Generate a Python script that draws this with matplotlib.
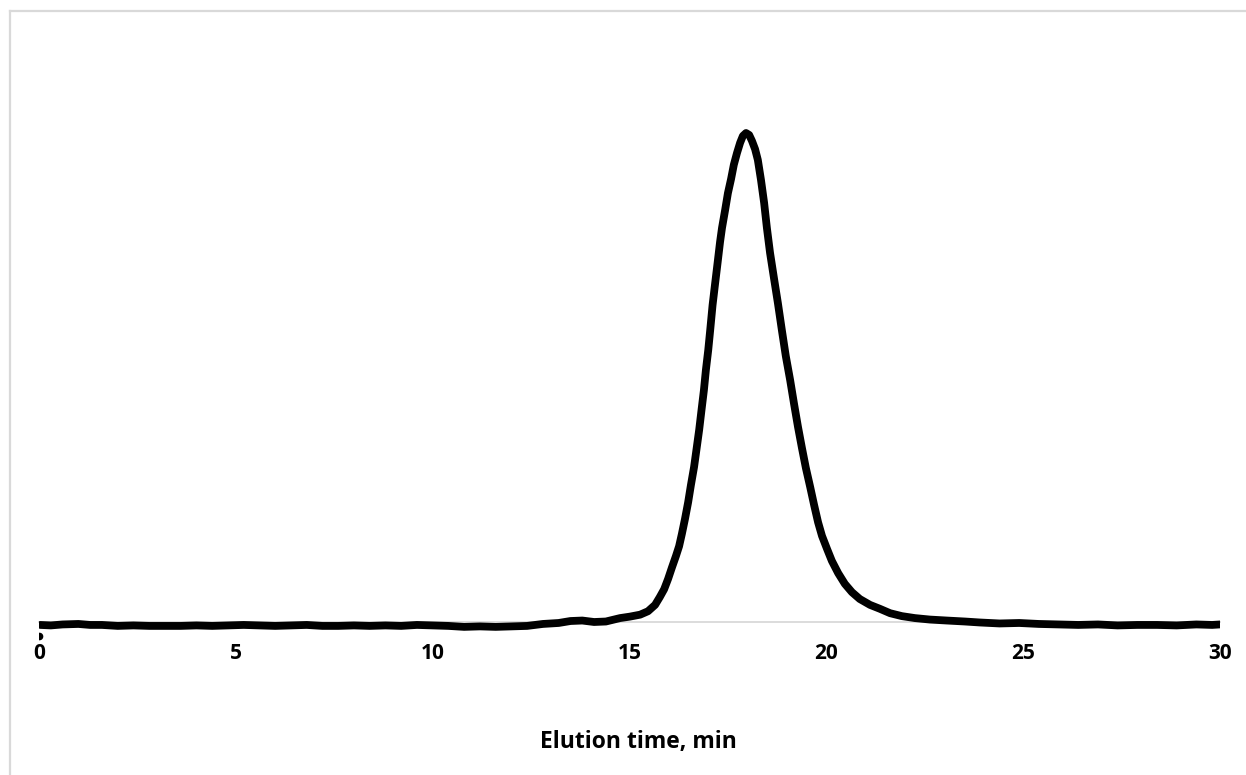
import matplotlib
matplotlib.use("Agg")
import matplotlib.pyplot as plt
from matplotlib.lines import Line2D

# Chromatogram: elution time (min) vs detector signal (relative, peak = 100)
time = [0.00, 0.03, 0.30, 0.60, 1.00, 1.30, 1.60, 2.00, 2.40, 2.80, 3.20,
        3.60, 4.00, 4.40, 4.80, 5.20, 5.60, 6.00, 6.40, 6.80, 7.20, 7.60,
        8.00, 8.40, 8.80, 9.20, 9.60, 10.00, 10.40, 10.80, 11.20, 11.60,
        12.00, 12.40, 12.80, 13.20, 13.50, 13.80, 14.10, 14.40,
        14.76, 15.01, 15.27, 15.47, 15.65, 15.77, 15.88, 15.98, 16.08,
        16.18, 16.26, 16.33, 16.41, 16.49, 16.56, 16.64, 16.70, 16.77,
        16.83, 16.89, 16.94, 17.00, 17.05, 17.11, 17.17, 17.24, 17.30,
        17.35, 17.43, 17.50, 17.58, 17.65, 17.73, 17.81, 17.88, 17.96,
        18.04, 18.11, 18.19, 18.26, 18.34, 18.42, 18.49, 18.57, 18.67,
        18.77, 18.87, 18.97, 19.08, 19.18, 19.28, 19.38, 19.48, 19.59,
        19.69, 19.79, 19.89, 20.02, 20.14, 20.30, 20.47, 20.65, 20.85,
        21.11, 21.36, 21.62, 21.92, 22.25, 22.63, 23.06, 23.52, 23.90,
        24.40, 24.90, 25.40, 25.90, 26.40, 26.90, 27.40, 27.90, 28.40,
        28.90, 29.40, 29.80, 30.00]
signal = [-2.9, -0.6, -0.7, -0.5, -0.4, -0.6, -0.6, -0.8, -0.7, -0.8, -0.8,
          -0.8, -0.7, -0.8, -0.7, -0.6, -0.7, -0.8, -0.7, -0.6, -0.8, -0.8,
          -0.7, -0.8, -0.7, -0.8, -0.6, -0.7, -0.8, -1.0, -0.9, -1.0,
          -0.9, -0.8, -0.4, -0.2, 0.2, 0.3, 0.0, 0.1,
          0.8, 1.1, 1.5, 2.2, 3.5, 5.1, 6.7, 8.8, 11.2,
          13.5, 15.5, 18.0, 21.1, 24.5, 28.0, 31.7, 35.2, 39.3,
          43.4, 47.4, 51.5, 55.6, 59.7, 64.8, 68.9, 73.6, 77.7,
          80.6, 84.3, 87.7, 90.6, 93.5, 95.9, 98.0, 99.4, 100.0,
          99.6, 98.4, 96.7, 94.5, 90.4, 85.7, 80.6, 75.5, 70.3,
          65.2, 59.7, 54.4, 49.5, 44.6, 39.9, 35.6, 31.5, 27.6,
          23.9, 20.4, 17.6, 14.9, 12.5, 10.0, 7.8, 6.1, 4.7,
          3.5, 2.7, 1.8, 1.2, 0.8, 0.5, 0.3, 0.1, -0.1,
          -0.3, -0.2, -0.4, -0.5, -0.6, -0.5, -0.7, -0.6, -0.6,
          -0.7, -0.5, -0.6, -0.5]

x_ticks = [0, 5, 10, 15, 20, 25, 30]
x_label = "Elution time, min"

W, H = 1246, 775
fig = plt.figure(figsize=(W / 100, H / 100), dpi=100)

# plot area in pixel terms: x 0..30 spans 39..1220, y=0 at 622 px
y_lo, y_hi = -4.0, 110.0
px_per_unit = 4.89
bottom_px = 622 + (0 - y_lo) * px_per_unit
top_px = 622 - y_hi * px_per_unit
ax = fig.add_axes([39 / W, (H - bottom_px) / H, (1220 - 39) / W,
                   (bottom_px - top_px) / H])
ax.set_xlim(0, 30)
ax.set_ylim(y_lo, y_hi)

ax.plot(time[1:], signal[1:], color="black", lw=5.6,
        solid_capstyle="round", solid_joinstyle="round", zorder=3)
ax.plot(time[:1], signal[:1], "o", color="black", ms=4.5, zorder=3)

for side in ("top", "right", "left"):
    ax.spines[side].set_visible(False)
ax.spines["bottom"].set_position(("data", 0))
ax.spines["bottom"].set_color("#d9d9d9")
ax.spines["bottom"].set_linewidth(1.3)
ax.spines["bottom"].set_zorder(1)
ax.set_yticks([])
ax.set_xticks(x_ticks)
ax.set_xticklabels([str(v) for v in x_ticks], fontfamily="Open Sans",
                   fontweight="bold", fontsize=15)
ax.tick_params(axis="x", length=0, pad=15)
ax.patch.set_visible(False)

fig.text(638 / W, (H - 742) / H, x_label, ha="center", va="center",
         fontfamily="Open Sans", fontweight="bold", fontsize=16.5)

# light grey chart frame (top and left edges)
frame_color = "#d9d9d9"
fig.add_artist(Line2D([9.5 / W, 1.0], [(H - 11) / H, (H - 11) / H],
                      transform=fig.transFigure, color=frame_color, lw=1.6))
fig.add_artist(Line2D([10 / W, 10 / W], [0, (H - 11) / H],
                      transform=fig.transFigure, color=frame_color, lw=1.6))

fig.savefig("out.png", dpi=100)
